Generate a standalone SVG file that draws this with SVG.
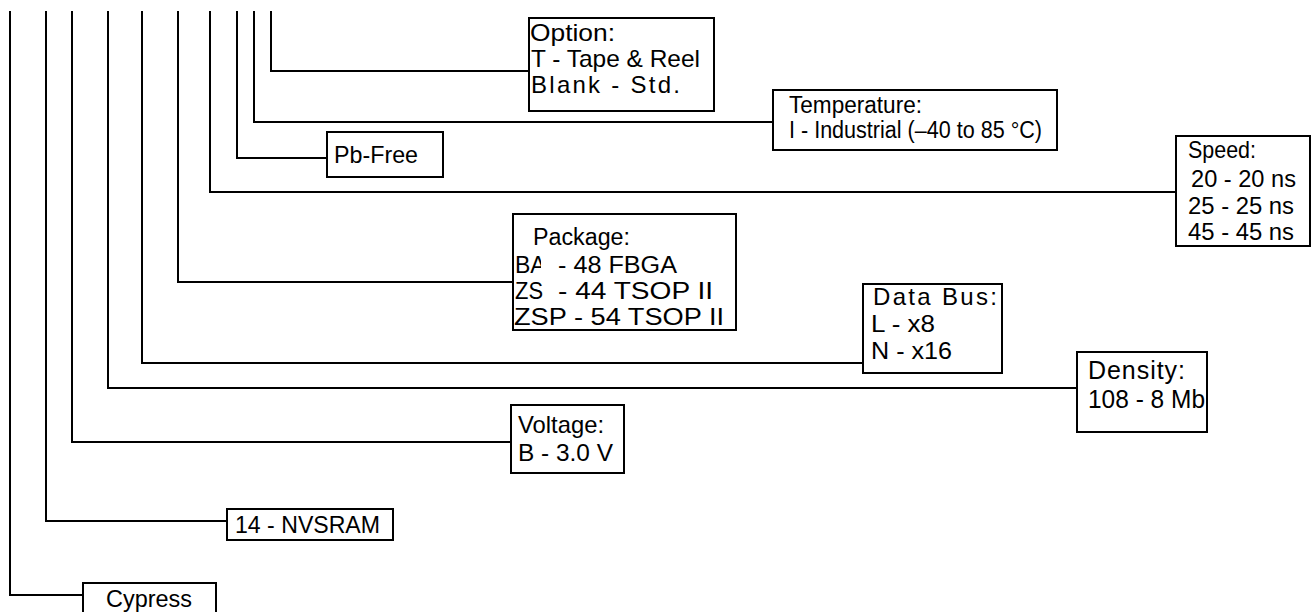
<svg xmlns="http://www.w3.org/2000/svg" width="1312" height="612" viewBox="0 0 1312 612">
<style>
.box{fill:#fff;stroke:#000;stroke-width:2}
.c{fill:none;stroke:#000;stroke-width:2}
text{font-family:"Liberation Sans",Arial,sans-serif;font-size:24px;fill:#000}
.t{font-size:23px}
.w{font-size:25px}
</style>
<defs>
<clipPath id="baclip"><rect x="500" y="250" width="41" height="40"/></clipPath>
</defs>
<rect width="1312" height="612" fill="#fff"/>
<g id="connectors">
<path class="c" d="M10 11 V595 H83"/>
<path class="c" d="M46 11 V521 H227"/>
<path class="c" d="M72 11 V442 H511"/>
<path class="c" d="M108 11 V388 H1077"/>
<path class="c" d="M142 11 V363 H863"/>
<path class="c" d="M178 11 V282 H513"/>
<path class="c" d="M210 11 V192 H1176"/>
<path class="c" d="M237 11 V158 H327"/>
<path class="c" d="M254 11 V122 H773"/>
<path class="c" d="M271 11 V71 H529"/>
</g>
<g id="cypress">
<rect class="box" x="83" y="583" width="133" height="40"/>
<text x="106" y="607" textLength="86" lengthAdjust="spacingAndGlyphs">Cypress</text>
</g>
<g id="nvsram">
<rect class="box" x="227" y="509" width="166" height="31"/>
<text x="235" y="533" textLength="145" lengthAdjust="spacingAndGlyphs">14 - NVSRAM</text>
</g>
<g id="voltage">
<rect class="box" x="511" y="405" width="113" height="68"/>
<text x="518" y="433" textLength="86" lengthAdjust="spacingAndGlyphs">Voltage:</text>
<text x="518" y="461" textLength="95" lengthAdjust="spacingAndGlyphs">B - 3.0 V</text>
</g>
<g id="density">
<rect class="box" x="1077" y="352" width="130" height="80"/>
<text class="w" x="1088" y="379" textLength="97" lengthAdjust="spacing">Density:</text>
<text class="w" x="1088" y="408" textLength="117" lengthAdjust="spacingAndGlyphs">108 - 8 Mb</text>
</g>
<g id="databus">
<rect class="box" x="863" y="284" width="139" height="89"/>
<text x="873" y="305" textLength="124" lengthAdjust="spacing">Data Bus:</text>
<text x="871" y="332" textLength="64" lengthAdjust="spacingAndGlyphs">L - x8</text>
<text x="871" y="359" textLength="81" lengthAdjust="spacingAndGlyphs">N - x16</text>
</g>
<g id="package">
<rect class="box" x="513" y="214" width="223" height="116"/>
<text class="t" x="533" y="245" textLength="97" lengthAdjust="spacingAndGlyphs">Package:</text>
<text class="t" x="515" y="273" clip-path="url(#baclip)">BA</text>
<text class="t" x="558" y="273" textLength="119" lengthAdjust="spacingAndGlyphs">- 48 FBGA</text>
<text class="t" x="515" y="299" textLength="28" lengthAdjust="spacingAndGlyphs">ZS</text>
<text class="t" x="558" y="299" textLength="155" lengthAdjust="spacingAndGlyphs">- 44 TSOP II</text>
<text class="t" x="514" y="325" textLength="210" lengthAdjust="spacingAndGlyphs">ZSP - 54 TSOP II</text>
</g>
<g id="speed">
<rect class="box" x="1176" y="136" width="134" height="110"/>
<text x="1188" y="158" textLength="68" lengthAdjust="spacingAndGlyphs">Speed:</text>
<text x="1191" y="187" textLength="105" lengthAdjust="spacingAndGlyphs">20 - 20 ns</text>
<text x="1188" y="214" textLength="106" lengthAdjust="spacingAndGlyphs">25 - 25 ns</text>
<text x="1188" y="240" textLength="106" lengthAdjust="spacingAndGlyphs">45 - 45 ns</text>
</g>
<g id="pbfree">
<rect class="box" x="327" y="132" width="116" height="45"/>
<text x="334" y="163" textLength="84" lengthAdjust="spacingAndGlyphs">Pb-Free</text>
</g>
<g id="temperature">
<rect class="box" x="773" y="90" width="284" height="60"/>
<text class="t" x="789" y="113" textLength="133" lengthAdjust="spacingAndGlyphs">Temperature:</text>
<text class="t" x="789" y="138" textLength="253" lengthAdjust="spacingAndGlyphs">I - Industrial (–40 to 85 °C)</text>
</g>
<g id="option">
<rect class="box" x="529" y="18" width="185" height="93"/>
<text x="530" y="41" textLength="85" lengthAdjust="spacingAndGlyphs">Option:</text>
<text x="531" y="67" textLength="169" lengthAdjust="spacingAndGlyphs">T - Tape &amp; Reel</text>
<text x="531" y="93" textLength="149" lengthAdjust="spacing">Blank - Std.</text>
</g>
</svg>
